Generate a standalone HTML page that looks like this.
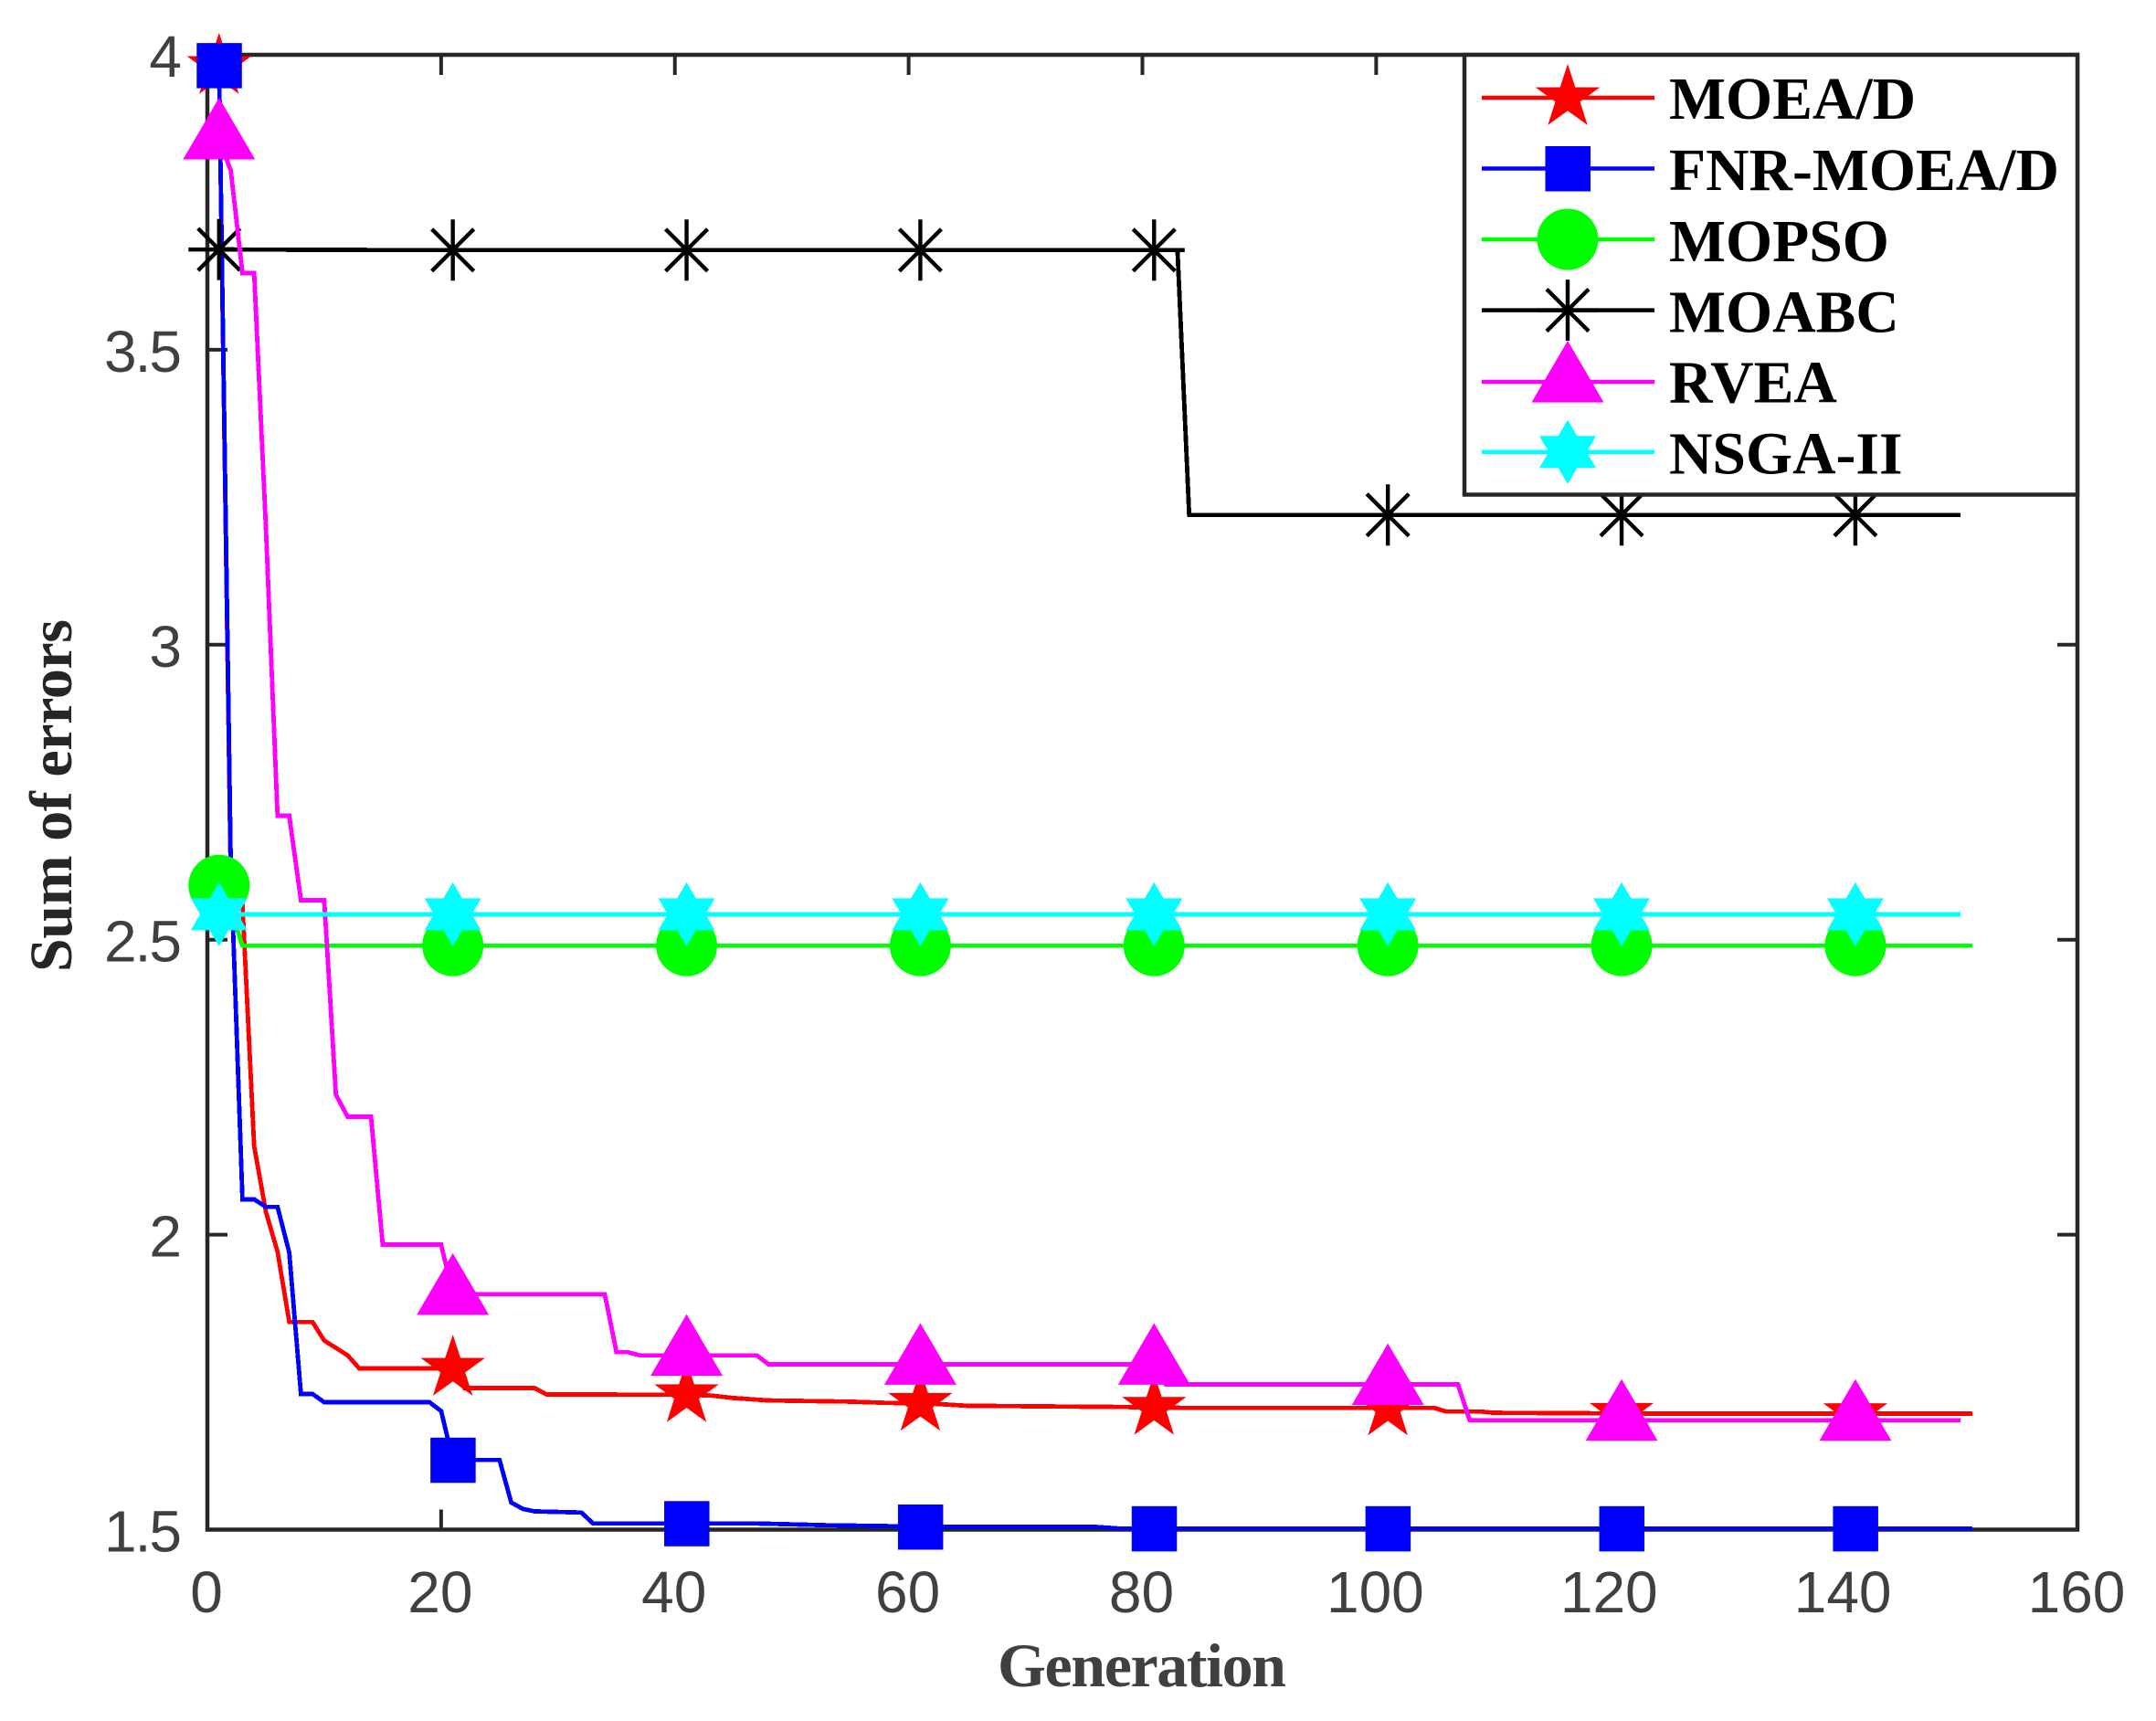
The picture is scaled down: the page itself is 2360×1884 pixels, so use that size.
<!DOCTYPE html>
<html lang="en">
<head>
<meta charset="utf-8">
<title>Sum of errors vs Generation</title>
<style>
html,body{margin:0;padding:0;background:#fff;width:2360px;height:1884px;overflow:hidden}
svg{display:block}
text{font-family:"Liberation Sans",sans-serif}
.serif{font-family:"Liberation Serif",serif;font-weight:bold}
.tick-label{font-size:64px;fill:#404040}
.legend-label{font-size:65.7px;fill:#000}
</style>
</head>
<body>
<svg id="chart" xmlns="http://www.w3.org/2000/svg" width="2360" height="1884" viewBox="0 0 2360 1884">
  <rect x="0" y="0" width="2360" height="1884" fill="#fff"/>
  <g id="axes"></g>
  <g id="plot"></g>
  <text class="serif" x="1250" y="1846" font-size="68" fill="#404040" text-anchor="middle" textLength="316" lengthAdjust="spacing">Generation</text>
  <text class="serif" transform="translate(78,871) rotate(-90)" font-size="66" fill="#262626" text-anchor="middle" textLength="386" lengthAdjust="spacing">Sum of errors</text>
  <g id="legend">
    <rect x="1603" y="60" width="671" height="481.5" fill="#fff" stroke="#262626" stroke-width="4.5"/>
    <line x1="1622" x2="1811" y1="107" y2="107" stroke="#ff0000" stroke-width="4.5"/>
    <line x1="1622" x2="1811" y1="184.5" y2="184.5" stroke="#0000ff" stroke-width="4.5"/>
    <line x1="1622" x2="1811" y1="262" y2="262" stroke="#00ff00" stroke-width="4.5"/>
    <line x1="1622" x2="1811" y1="339.6" y2="339.6" stroke="#000000" stroke-width="4.5"/>
    <line x1="1622" x2="1811" y1="418" y2="418" stroke="#ff00ff" stroke-width="4.5"/>
    <line x1="1622" x2="1811" y1="494.7" y2="494.7" stroke="#00ffff" stroke-width="4.5"/>
    <text class="serif legend-label" x="1827" y="130">MOEA/D</text>
    <text class="serif legend-label" x="1827" y="208">FNR-MOEA/D</text>
    <text class="serif legend-label" x="1827" y="286">MOPSO</text>
    <text class="serif legend-label" x="1827" y="363.5">MOABC</text>
    <text class="serif legend-label" x="1827" y="440.5">RVEA</text>
    <text class="serif legend-label" x="1827" y="518.5">NSGA-II</text>
  </g>
</svg>
<script>
// ---- chart data ----
const xTicks = [0, 20, 40, 60, 80, 100, 120, 140, 160];
const xTickLabels = ['0', '20', '40', '60', '80', '100', '120', '140', '160'];
const yTicks = [1.5, 2, 2.5, 3, 3.5, 4];
const yTickLabels = ['1.5', '2', '2.5', '3', '3.5', '4'];
const markerGenerations = [1, 21, 41, 61, 81, 101, 121, 141];

const moeadGenerations = [1, 2, 3, 4, 5, 6, 7, 9, 10, 12, 13, 21, 22, 28, 29, 41, 43, 45, 48, 55, 58, 62, 65, 78, 84, 105, 106, 109, 110, 125, 151];
const moeadValues = [3.98, 2.6, 2.56, 2.15, 2.039, 1.971, 1.852, 1.852, 1.8206, 1.7955, 1.7733, 1.7733, 1.74, 1.74, 1.7294, 1.7285, 1.7275, 1.7232, 1.719, 1.717, 1.715, 1.7135, 1.71, 1.708, 1.7063, 1.7063, 1.7, 1.7, 1.698, 1.6965, 1.6965];

const fnrGenerations = [1, 2, 3, 4, 5, 6, 7, 8, 9, 10, 19, 20, 21, 25, 26, 27, 28, 32, 33, 47, 50, 53, 58, 61, 76, 78, 151];
const fnrValues = [3.982, 2.63, 2.06, 2.06, 2.047, 2.047, 1.97, 1.73, 1.73, 1.716, 1.716, 1.701, 1.618, 1.618, 1.546, 1.535, 1.531, 1.529, 1.5104, 1.5104, 1.509, 1.5074, 1.506, 1.5047, 1.5047, 1.5018, 1.5018];

const mopsoGenerations = [1, 2, 3, 151];
const mopsoValues = [2.592, 2.55, 2.49, 2.49];

const moabcGenerations = [1, 17, 83, 84, 150];
const moabcValues = [3.67, 3.669, 3.669, 3.22, 3.22];

const rveaGenerations = [1, 2, 3, 4, 5, 6, 7, 8, 10, 11, 12, 14, 15, 20, 21, 34, 35, 36, 37, 47, 48, 81, 82, 107, 108, 150];
const rveaValues = [3.8575, 3.804, 3.63, 3.63, 3.2, 2.71, 2.71, 2.567, 2.567, 2.237, 2.2, 2.2, 1.983, 1.983, 1.899, 1.899, 1.8007, 1.8007, 1.7955, 1.7955, 1.7805, 1.7805, 1.746, 1.746, 1.6855, 1.6855];

const nsgaGenerations = [1, 150];
const nsgaValues = [2.543, 2.543];

// ---- axis functions ----
const X0 = 227, X1 = 2274, Y0 = 60, Y1 = 1674.5;
const X_MIN = 0, X_MAX = 160, Y_MIN = 1.5, Y_MAX = 4;
function xScale(g) { return X0 + (g - X_MIN) / (X_MAX - X_MIN) * (X1 - X0); }
function yScale(v) { return Y0 + (Y_MAX - v) / (Y_MAX - Y_MIN) * (Y1 - Y0); }

const NS = 'http://www.w3.org/2000/svg';
function make(tag, attrs, parent) {
  const el = document.createElementNS(NS, tag);
  for (const k in attrs) el.setAttribute(k, attrs[k]);
  if (parent) parent.appendChild(el);
  return el;
}
function valueAt(gens, vals, g) {
  for (let i = 0; i < gens.length - 1; i++) {
    if (g >= gens[i] && g <= gens[i + 1]) {
      const t = (g - gens[i]) / (gens[i + 1] - gens[i]);
      return vals[i] + t * (vals[i + 1] - vals[i]);
    }
  }
  return vals[vals.length - 1];
}

// ---- marker shapes (drawn around a centre point) ----
function starPoints(cx, cy) {
  const R = 37, r = 14.2, pts = [];
  for (let i = 0; i < 10; i++) {
    const rad = i % 2 ? r : R, a = -Math.PI / 2 + i * Math.PI / 5;
    pts.push((cx + rad * Math.cos(a)).toFixed(1) + ',' + (cy + rad * Math.sin(a)).toFixed(1));
  }
  return pts.join(' ');
}
function drawMarker(kind, color, cx, cy, parent) {
  if (kind === 'star') return make('polygon', {points: starPoints(cx, cy), fill: color}, parent);
  if (kind === 'square') return make('rect', {x: cx - 24.5, y: cy - 24.5, width: 49.5, height: 49.5, fill: color}, parent);
  if (kind === 'circle') return make('circle', {cx: cx, cy: cy, r: 33.5, fill: color}, parent);
  if (kind === 'triangle') return make('polygon', {points: cx + ',' + (cy - 45) + ' ' + (cx - 39.5) + ',' + (cy + 22.5) + ' ' + (cx + 39.5) + ',' + (cy + 22.5), fill: color}, parent);
  if (kind === 'asterisk') {
    const d = 'M' + (cx - 33.5) + ' ' + cy + 'H' + (cx + 33.5) + 'M' + cx + ' ' + (cy - 33.5) + 'V' + (cy + 33.5) +
      'M' + (cx - 23) + ' ' + (cy - 23) + 'L' + (cx + 23) + ' ' + (cy + 23) + 'M' + (cx - 23) + ' ' + (cy + 23) + 'L' + (cx + 23) + ' ' + (cy - 23);
    return make('path', {d: d, fill: 'none', stroke: color, 'stroke-width': 4.4}, parent);
  }
  // hexagram
  const up = cx + ',' + (cy - 35) + ' ' + (cx - 31) + ',' + (cy + 17.5) + ' ' + (cx + 31) + ',' + (cy + 17.5);
  const dn = cx + ',' + (cy + 35) + ' ' + (cx - 31) + ',' + (cy - 17.5) + ' ' + (cx + 31) + ',' + (cy - 17.5);
  const g = make('g', {fill: color}, parent);
  make('polygon', {points: up}, g);
  make('polygon', {points: dn}, g);
  return g;
}

// ---- axes ----
const axes = document.getElementById('axes');
const AXIS = '#262626', TICK = 22;

const frame = make('rect', {x: X0, y: Y0, width: X1 - X0, height: Y1 - Y0, fill: 'none', stroke: AXIS, 'stroke-width': 4.5}, axes);



xTicks.forEach(function (t, i) {
  const px = xScale(t);
  const bottom = make('line', {x1: px, x2: px, y1: Y1, y2: Y1 - TICK, stroke: AXIS, 'stroke-width': 4}, axes);
  
  
  const top = make('line', {x1: px, x2: px, y1: Y0, y2: Y0 + TICK, stroke: AXIS, 'stroke-width': 4}, axes);
  
  
  const label = make('text', {x: px - 1, y: 1765, 'text-anchor': 'middle', 'class': 'tick-label'}, axes);
  label.textContent = xTickLabels[i];
  
  
});

yTicks.forEach(function (t, i) {
  const py = yScale(t);
  const left = make('line', {x1: X0, x2: X0 + TICK, y1: py, y2: py, stroke: AXIS, 'stroke-width': 4}, axes);
  
  
  const right = make('line', {x1: X1, x2: X1 - TICK, y1: py, y2: py, stroke: AXIS, 'stroke-width': 4}, axes);
  
  
  const label = make('text', {x: 197, y: py + 24, 'text-anchor': 'end', 'letter-spacing': '-2', 'class': 'tick-label'}, axes);
  label.textContent = yTickLabels[i];
  
  
});

// ---- series ----
const plot = document.getElementById('plot');
const legend = document.getElementById('legend');

function drawSeries(name, gens, vals, color, kind, legendY) {
  const group = make('g', {}, plot);
  
  

  const pts = gens.map(function (g, i) { return xScale(g).toFixed(1) + ',' + yScale(vals[i]).toFixed(1); }).join(' ');
  const line = make('polyline', {points: pts, fill: 'none', stroke: color, 'stroke-width': 4.8, 'stroke-linejoin': 'miter', 'shape-rendering': 'crispEdges'}, group);
  
  

  markerGenerations.forEach(function (g) {
    const m = drawMarker(kind, color, xScale(g), yScale(valueAt(gens, vals, g)), group);
    
    
  });

  const lm = drawMarker(kind, color, 1716, legendY, legend);
  
  
}

drawSeries('moead', moeadGenerations, moeadValues, '#ff0000', 'star', 107);
drawSeries('fnr-moead', fnrGenerations, fnrValues, '#0000ff', 'square', 184.5);
drawSeries('mopso', mopsoGenerations, mopsoValues, '#00ff00', 'circle', 262);
drawSeries('moabc', moabcGenerations, moabcValues, '#000000', 'asterisk', 339.6);
drawSeries('rvea', rveaGenerations, rveaValues, '#ff00ff', 'triangle', 418);
drawSeries('nsga-ii', nsgaGenerations, nsgaValues, '#00ffff', 'hexagram', 494.7);
</script>
</body>
</html>
